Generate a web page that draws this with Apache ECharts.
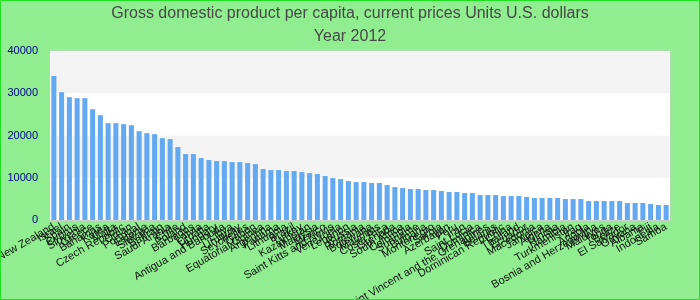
<!DOCTYPE html>
<html>
<head>
<meta charset="utf-8">
<script src="https://cdn.jsdelivr.net/npm/echarts@6/dist/echarts.min.js"></script>
<style>
html,body{margin:0;padding:0;background:#90ee90;}
#chart{width:700px;height:300px;}
</style>
</head>
<body>
<div id="chart"></div>
<script>
var titleText = "Gross domestic product per capita, current prices Units U.S. dollars";
var subtitleText = "Year 2012";
var countries = [
"New Zealand","Israel","Spain","Cyprus","Slovenia","Greece","Bahamas","Korea","Malta","Czech Republic",
"Oman","Portugal","Estonia","Slovakia","Bahrain","Saudi Arabia","Chile","Poland","Barbados","Latvia",
"Croatia","Hungary","Antigua and Barbuda","Libya","Uruguay","Seychelles","Gabon","Equatorial Guinea","Argentina","Panama",
"Lithuania","Brazil","Turkey","Kazakhstan","Malaysia","Mexico","Saint Kitts and Nevis","Venezuela","Lebanon","Russia",
"Romania","Botswana","Mauritius","Costa Rica","Grenada","South Africa","Colombia","Suriname","Bulgaria","Montenegro",
"Serbia","Azerbaijan","Peru","Iran","Saint Lucia","Dominica","Saint Vincent and the Grenadines","Belarus","Dominican Republic","China",
"Thailand","Ecuador","Macedonia","Jamaica","Algeria","Tunisia","Namibia","Turkmenistan","Iraq","Angola",
"Bosnia and Herzegovina","Maldives","Tonga","Belize","El Salvador","Guyana","Albania","Fiji","Indonesia","Samoa"
];
var gdpValues = [
34100,30250,29070,28830,28830,26230,24810,22920,22920,22690,
22450,21030,20560,20320,19380,19140,17250,15600,15600,14650,
14180,13940,13940,13700,13700,13470,13230,12050,11820,11820,
11580,11580,11340,11100,10870,10400,9930,9690,9220,8980,
8980,8750,8750,8270,7800,7560,7330,7330,7090,7090,
6850,6620,6620,6380,6380,5910,5910,5910,5670,5670,
5670,5440,5200,5200,5200,5200,4960,4960,4960,4490,
4490,4490,4490,4490,4020,4020,4020,3780,3550,3550
];
var yTicks = [0,10000,20000,30000,40000];

var chart = echarts.init(document.getElementById('chart'));
chart.setOption({
  backgroundColor: '#90ee90',
  animation: false,
  title: {
    text: titleText + "\n" + subtitleText,
    left: 'center',
    top: -3,
    textStyle: {fontFamily: 'Liberation Sans, Arial, sans-serif', fontSize: 16, fontWeight: 'normal', color: '#484848', lineHeight: 23}
  },
  graphic: [{
    type: 'rect', shape: {x: 0.5, y: 0.5, width: 699, height: 299},
    style: {fill: 'none', stroke: '#22e022', lineWidth: 1}, silent: true, z: 100
  }],
  grid: {left: 50, right: 30, top: 51, bottom: 80, containLabel: false, outerBoundsMode: 'none',
         show: true, borderColor: '#cccccc', borderWidth: 1, backgroundColor: '#ffffff'},
  xAxis: {
    type: 'category',
    data: countries,
    axisLine: {show: true, lineStyle: {color: '#cccccc'}},
    axisTick: {show: false},
    axisLabel: {interval: 0, rotate: 30, fontSize: 11, color: '#111', fontFamily: 'Liberation Sans, Arial, sans-serif', margin: 6, hideOverlap: false}
  },
  yAxis: {
    type: 'value',
    min: yTicks[0], max: yTicks[yTicks.length-1], interval: 10000,
    axisLine: {show: false},
    axisTick: {show: false},
    splitLine: {show: false},
    splitArea: {show: true, areaStyle: {color: ['#ffffff', '#f3f3f3']}},
    axisLabel: {fontSize: 11, color: '#00008b', fontFamily: 'Liberation Sans, Arial, sans-serif', margin: 12,
      formatter: function (v) { return String(v); }}
  },
  series: [{
    type: 'bar',
    data: gdpValues,
    barCategoryGap: '35%',
    itemStyle: {color: '#63a9f2'}
  }]
});
</script>
</body>
</html>
